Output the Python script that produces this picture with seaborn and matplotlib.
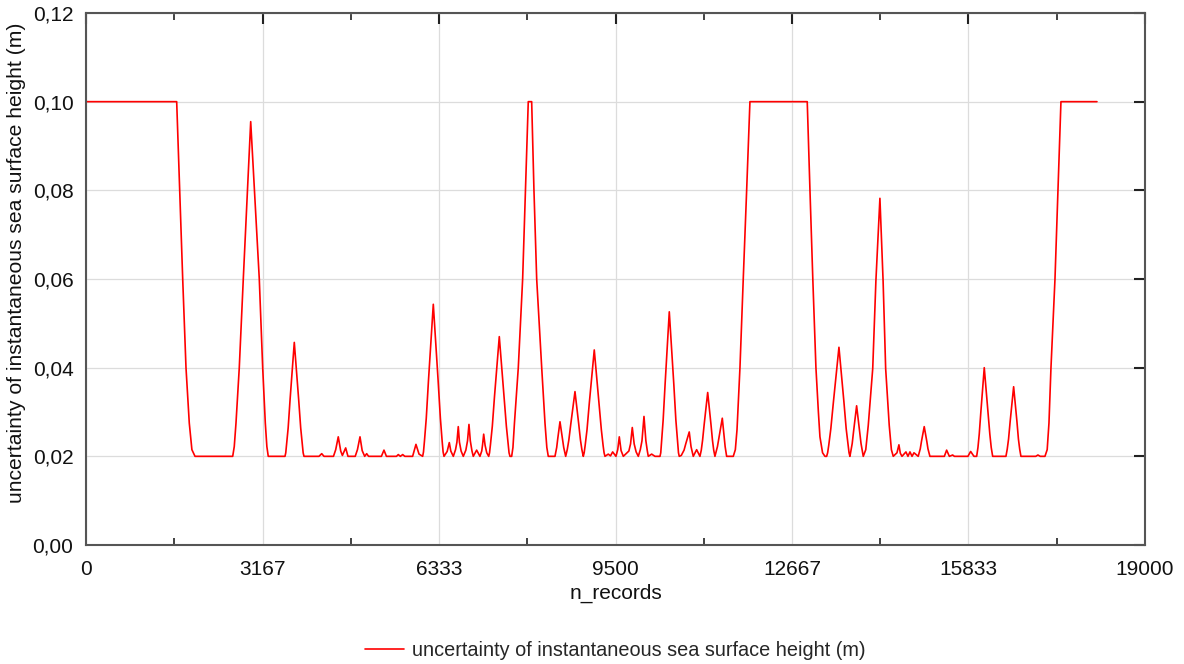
import matplotlib
matplotlib.use("Agg")
import matplotlib.pyplot as plt
import seaborn as sns
import pandas as pd
from matplotlib.ticker import FixedLocator, FuncFormatter

# ---- data ----
n_records = [
    0, 1627, 1681, 1735, 1794, 1853, 1900, 1956,
    2632, 2660, 2691, 2750, 2822, 2955, 3109, 3170, 3217, 3245, 3270,
    3570, 3584, 3598, 3627, 3662, 3737, 3815, 3852, 3881, 3896, 3911,
    4180, 4229, 4270, 4440, 4480, 4526, 4570, 4600, 4659, 4700,
    4830, 4870, 4916, 4955, 5000, 5036, 5070,
    5300, 5346, 5390, 5570, 5603, 5640, 5682, 5720, 5860, 5920, 5975,
    6040, 6055, 6072, 6105, 6145, 6231, 6317, 6358, 6390, 6407, 6423,
    6480, 6518, 6545, 6590, 6630, 6655, 6679, 6700, 6730, 6769,
    6815, 6845, 6871, 6895, 6925, 6948, 7009, 7068,
    7100, 7115, 7135, 7160, 7190, 7225,
    7240, 7257, 7290, 7329, 7415, 7501, 7542, 7574, 7590, 7607,
    7637, 7660, 7687, 7756, 7834, 7885, 7935, 7996, 8037, 8086, 8176, 8235, 8268, 8294,
    8414, 8445, 8463, 8504, 8550, 8571, 8606,
    8634, 8663, 8698, 8773, 8840, 8871, 8897, 8922,
    8938, 8955, 8989, 9030, 9119, 9205, 9246, 9278, 9295, 9311,
    9370, 9410, 9449, 9508, 9540, 9568, 9600, 9640,
    9740, 9770, 9801, 9835, 9870, 9909,
    9945, 9975, 10011, 10045, 10070, 10088, 10149, 10208, 10298,
    10312, 10326, 10355, 10390, 10465, 10546, 10583, 10614, 10630, 10644,
    10680, 10730, 10760, 10823, 10855, 10895, 10956, 11015,
    11039, 11062, 11091, 11154, 11213, 11240, 11262, 11284,
    11329, 11357, 11416, 11451, 11467, 11494, 11613,
    11650, 11680, 11733, 11792, 11853, 11912, 12940, 12989, 13040, 13096, 13140, 13168, 13215, 13258,
    13288, 13306, 13326, 13363, 13410, 13509, 13598, 13639, 13673, 13690, 13706,
    13747, 13772, 13826, 13880, 13905, 13945,
    13990, 14035, 14115, 14172, 14244, 14301, 14347, 14411, 14450, 14483,
    14550, 14585, 14610, 14640, 14711, 14747, 14783, 14820, 14855, 14931,
    14968, 14990, 15039, 15085, 15106, 15141,
    15400, 15441, 15490, 15549, 15580, 15823, 15872, 15931, 15980,
    16003, 16026, 16055, 16116, 16184, 16216, 16241, 16267,
    16505, 16528, 16552, 16581, 16643, 16702, 16729, 16752, 16774,
    17040, 17079, 17120, 17205, 17245, 17277, 17313, 17385, 17438, 17492, 18138,
]
uncertainty_m = [
    0.100, 0.100, 0.080, 0.060, 0.040, 0.0275, 0.0215, 0.020,
    0.020, 0.0222, 0.0275, 0.040, 0.060, 0.0955, 0.060, 0.040, 0.0275, 0.0222, 0.020,
    0.020, 0.0208, 0.0226, 0.0264, 0.0329, 0.0457, 0.0329, 0.0264, 0.0226, 0.0208, 0.020,
    0.020, 0.0206, 0.020, 0.020, 0.0215, 0.0244, 0.0212, 0.0202, 0.0219, 0.020,
    0.020, 0.0215, 0.0244, 0.0213, 0.020, 0.0206, 0.020,
    0.020, 0.0214, 0.020, 0.020, 0.0204, 0.020, 0.0204, 0.020, 0.020, 0.0227, 0.0205,
    0.020, 0.021, 0.0234, 0.0286, 0.0372, 0.0543, 0.0372, 0.0286, 0.0234, 0.021, 0.020,
    0.0211, 0.0231, 0.0212, 0.020, 0.0215, 0.0232, 0.0267, 0.0232, 0.0212, 0.020,
    0.0214, 0.0235, 0.0272, 0.0235, 0.0212, 0.020, 0.0214, 0.020,
    0.0212, 0.0226, 0.025, 0.0225, 0.0208, 0.020,
    0.0208, 0.0227, 0.0268, 0.0335, 0.047, 0.0335, 0.0268, 0.0227, 0.0208, 0.020,
    0.020, 0.022, 0.0275, 0.040, 0.060, 0.080, 0.100, 0.100, 0.080, 0.060, 0.040, 0.0275, 0.022, 0.020,
    0.020, 0.022, 0.0239, 0.0278, 0.0239, 0.022, 0.020,
    0.0215, 0.0237, 0.0273, 0.0346, 0.0273, 0.0237, 0.0215, 0.020,
    0.0208, 0.0224, 0.026, 0.032, 0.044, 0.032, 0.026, 0.0224, 0.0208, 0.020,
    0.0205, 0.0201, 0.021, 0.020, 0.0215, 0.0244, 0.0213, 0.020,
    0.0212, 0.0228, 0.0265, 0.0228, 0.021, 0.020,
    0.0215, 0.0235, 0.029, 0.0235, 0.0213, 0.020, 0.0205, 0.020, 0.020,
    0.0208, 0.0233, 0.0282, 0.0363, 0.0526, 0.0363, 0.0282, 0.0233, 0.0208, 0.020,
    0.0202, 0.0214, 0.0228, 0.0255, 0.0222, 0.020, 0.0215, 0.020,
    0.0214, 0.0236, 0.0272, 0.0344, 0.0272, 0.0236, 0.0214, 0.020,
    0.0222, 0.0243, 0.0286, 0.0243, 0.0222, 0.020, 0.020,
    0.0215, 0.026, 0.040, 0.060, 0.080, 0.100, 0.100, 0.080, 0.060, 0.040, 0.030, 0.0244, 0.0208, 0.020,
    0.020, 0.0208, 0.0225, 0.0262, 0.0323, 0.0446, 0.0323, 0.0262, 0.0225, 0.0208, 0.020,
    0.0229, 0.0257, 0.0314, 0.0257, 0.0229, 0.020,
    0.0215, 0.027, 0.0398, 0.0596, 0.0782, 0.0596, 0.0398, 0.027, 0.0215, 0.020,
    0.0208, 0.0226, 0.0207, 0.020, 0.021, 0.020, 0.021, 0.020, 0.0208, 0.020,
    0.0217, 0.0234, 0.0267, 0.0234, 0.0217, 0.020,
    0.020, 0.0214, 0.020, 0.0203, 0.020, 0.020, 0.0211, 0.020, 0.020,
    0.022, 0.025, 0.030, 0.040, 0.030, 0.025, 0.022, 0.020,
    0.020, 0.0216, 0.0239, 0.0279, 0.0357, 0.0279, 0.0239, 0.0216, 0.020,
    0.020, 0.0203, 0.020, 0.020, 0.0215, 0.0275, 0.040, 0.060, 0.080, 0.100, 0.100,
]
x_tick_values = [0, 3167, 6333, 9500, 12667, 15833, 19000]
x_tick_labels = ["0", "3167", "6333", "9500", "12667", "15833", "19000"]
y_tick_values = [0.00, 0.02, 0.04, 0.06, 0.08, 0.10, 0.12]
series_name = "uncertainty of instantaneous sea surface height (m)"

df = pd.DataFrame({"n_records": n_records, "value": uncertainty_m})

sns.set_theme(style="white")
plt.rcParams["font.family"] = ["Liberation Sans", "DejaVu Sans"]

fig = plt.figure(figsize=(11.84, 6.64), dpi=100)
ax = fig.add_axes([86 / 1184, 1 - 545 / 664, (1145 - 86) / 1184, (545 - 13) / 664])

sns.lineplot(data=df, x="n_records", y="value", color="#ff0000", linewidth=1.2,
             estimator=None, sort=False, label=series_name, ax=ax)

ax.set_xlim(0, 19000)
ax.set_ylim(0, 0.12)
ax.xaxis.set_major_locator(FixedLocator(x_tick_values))
ax.set_xticklabels(x_tick_labels)
minor = [(a + b) / 2 for a, b in zip(x_tick_values[:-1], x_tick_values[1:])]
ax.xaxis.set_minor_locator(FixedLocator(minor))
ax.yaxis.set_major_locator(FixedLocator(y_tick_values))
ax.yaxis.set_major_formatter(FuncFormatter(lambda v, p: f"{v:.2f}".replace(".", ",")))

ax.grid(True, which="major", color="#dcdcdc", linewidth=0.9)
ax.set_axisbelow(True)
for s in ax.spines.values():
    s.set_color("#555555")
    s.set_linewidth(1.5)
    s.set_visible(True)

ax.tick_params(axis="both", which="major", direction="in", length=8, width=1.5,
               color="#222222", top=True, right=True, labelsize=15, labelcolor="#111111")
ax.tick_params(axis="x", which="major", pad=11)
ax.tick_params(axis="y", which="major", pad=9)
ax.tick_params(axis="x", which="minor", direction="in", length=5, width=1.2,
               color="#222222", top=True, bottom=True)

ax.set_xlabel("n_records", fontsize=15, color="#111111", labelpad=3)
ax.set_ylabel(series_name, fontsize=15.2, color="#111111", labelpad=7)
ax.yaxis.set_label_coords(-0.0565, 0.53)

leg = ax.legend(loc="center", bbox_to_anchor=(0.5, -0.199), frameon=False,
                fontsize=14.3, handlelength=1.95, handletextpad=0.4,
                borderpad=0.1, borderaxespad=0.0)

fig.savefig("out.png", dpi=100, facecolor="white")
